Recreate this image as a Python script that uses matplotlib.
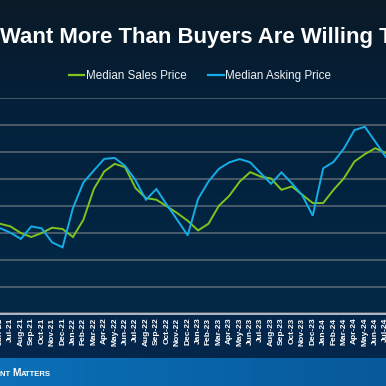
import numpy as np
import matplotlib.pyplot as plt
from matplotlib.colors import to_rgb
from matplotlib.lines import Line2D
from matplotlib.offsetbox import TextArea, HPacker, AnnotationBbox

months = ['Jun-21', 'Jul-21', 'Aug-21', 'Sep-21', 'Oct-21', 'Nov-21', 'Dec-21',
          'Jan-22', 'Feb-22', 'Mar-22', 'Apr-22', 'May-22', 'Jun-22', 'Jul-22',
          'Aug-22', 'Sep-22', 'Oct-22', 'Nov-22', 'Dec-22',
          'Jan-23', 'Feb-23', 'Mar-23', 'Apr-23', 'May-23', 'Jun-23', 'Jul-23',
          'Aug-23', 'Sep-23', 'Oct-23', 'Nov-23', 'Dec-23',
          'Jan-24', 'Feb-24', 'Mar-24', 'Apr-24', 'May-24', 'Jun-24', 'Jul-24']

# values in $K
sales_price = [358.3, 355.8, 349.7, 346.0, 349.7, 354.6, 353.4,
               346.0, 362.0, 390.5, 406.8, 413.9, 410.8, 391.4, 382.1, 380.6, 374.5, 368.2, 361.1,
               352.1, 358.3, 375.0, 384.3, 397.5, 406.2, 402.1, 400.3, 389.8, 392.9, 385.2, 377.5,
               377.5, 389.8, 400.6, 416.0, 422.9, 428.4, 424.1]
asking_price = [354.2, 350.0, 344.2, 355.8, 354.0, 341.0, 336.4,
                372.9, 396.6, 407.7, 418.5, 419.4, 412.0, 398.6, 380.6, 390.5, 375.9, 362.0, 347.5,
                381.2, 397.5, 409.3, 415.3, 418.3, 415.3, 405.3, 395.4, 406.0, 395.8, 384.7, 365.7,
                409.7, 415.7, 428.2, 445.2, 448.3, 434.5, 420.4]

GREEN = '#7fc41f'
BLUE = '#15ade8'
W = H = 386

fig = plt.figure(figsize=(3.86, 3.86), dpi=100)

# background: dark navy gradient, label band, blue footer band
bg = np.zeros((H, W, 3))
top, mid, low = map(np.array, (to_rgb('#0b1a27'), to_rgb('#03203a'), to_rgb('#022947')))
for r in range(314):
    t = r / 313
    bg[r, :] = top + (mid - top) * min(t * 3, 1) if t < 0.33 else mid + (low - mid) * (t - 0.33) / 0.67
bg[314:358, :] = to_rgb('#04264a')
c1, c2 = np.array(to_rgb('#0b70b8')), np.array(to_rgb('#07599a'))
for c in range(W):
    bg[358:, c] = c1 + (c2 - c1) * c / (W - 1)
bax = fig.add_axes([0, 0, 1, 1], zorder=-1)
bax.imshow(bg, extent=(0, W, H, 0), aspect='auto', interpolation='bilinear')
bax.set_axis_off()

ax = fig.add_axes([0, (H - 313.5) / H, 1, (313.5 - 98) / H])
ax.set_facecolor('none')
x = np.arange(len(months))
ax.plot(x, sales_price, color=GREEN, lw=1.4, solid_joinstyle='miter')
ax.plot(x, asking_price, color=BLUE, lw=1.4, solid_joinstyle='miter')

ax.set_xlim(0.2, 37.03)
ax.set_ylim(275, 475)
ax.set_yticks(np.arange(275, 476, 25))
ax.set_yticklabels([])
ax.yaxis.grid(True, color='#5d6a75', lw=1.1)
ax.set_axisbelow(True)
ax.set_xticks(x)
ax.set_xticklabels(months, rotation=90, fontsize=6, fontweight='bold',
                   color='white', family='Liberation Sans')
ax.tick_params(length=0, pad=3)
for s in ('top', 'left', 'right'):
    ax.spines[s].set_visible(False)
ax.spines['bottom'].set_color('#c9ced3')
ax.spines['bottom'].set_linewidth(1.2)

fig.text(0, 1 - 37 / H, 'Want More Than Buyers Are Willing To Pay', ha='left', va='center',
         fontsize=15.9, fontweight='bold', color='white', family='Liberation Sans')

handles = [Line2D([], [], color=GREEN, lw=1.6), Line2D([], [], color=BLUE, lw=1.6)]
fig.legend(handles, ['Median Sales Price', 'Median Asking Price'], loc='center',
           bbox_to_anchor=(200 / W, 1 - 76 / H), ncol=2, frameon=False,
           handlelength=1.3, handletextpad=0.1, columnspacing=1.9,
           prop={'family': 'Liberation Sans', 'size': 8.4}, labelcolor='#eef1f3')

# footer logo text (visible part), small caps
big, small = 7.3, 5.6
parts = [('NT ', small), ('M', big), ('ATTERS', small)]
areas = [TextArea(s, textprops=dict(color='white', fontsize=fs, fontweight='bold',
                                    family='Liberation Sans')) for s, fs in parts]
box = HPacker(children=areas, align='baseline', pad=0, sep=0)
ab = AnnotationBbox(box, (0, 1 - 377 / H), xycoords='figure fraction',
                    box_alignment=(0, 0.15), frameon=False, pad=0)
fig.add_artist(ab)

fig.savefig('out.png', dpi=100)
